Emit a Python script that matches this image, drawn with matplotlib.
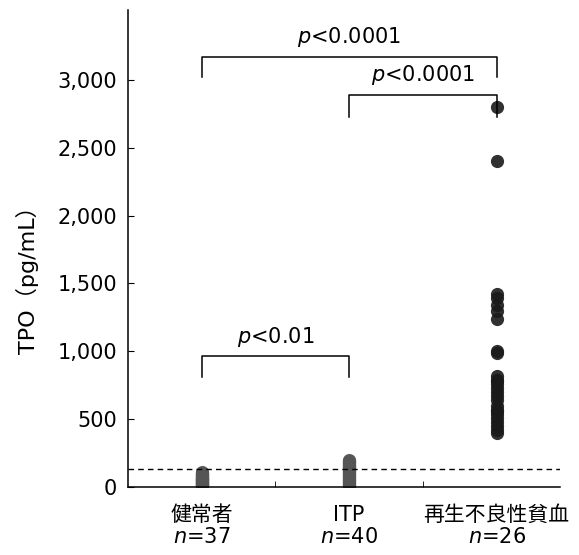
import numpy as np
from matplotlib import pyplot as plt

plt.rcParams['font.family'] = ['DejaVu Sans', 'Noto Sans CJK JP']
plt.rcParams['mathtext.fontset'] = 'dejavusans'

# groups
categories = ['健常者', 'ITP', '再生不良性貧血']
n_labels = ['37', '40', '26']

# TPO (pg/mL)
healthy = [5, 10, 12, 15, 18, 20, 22, 25, 28, 30, 32, 35, 38, 40, 42, 45, 48, 50, 52,
           55, 58, 60, 62, 65, 68, 70, 72, 75, 78, 80, 85, 88, 90, 95, 100, 105, 110]
itp = [5, 10, 15, 20, 25, 30, 35, 40, 45, 50, 55, 60, 65, 70, 75, 80, 85, 90, 95, 100,
       105, 110, 115, 120, 125, 130, 135, 140, 145, 150, 155, 160, 165, 170, 175, 180,
       185, 190, 195, 200]
aplastic = [2800, 2400, 1420, 1390, 1340, 1300, 1240, 1000, 990, 820, 790, 780, 760,
            730, 700, 670, 640, 600, 570, 560, 540, 510, 480, 450, 420, 400]

cutoff = 130

# significance brackets: (left group, right group, bar height, leg bottom, label)
brackets = [(0, 2, 3170, 3020, '0.0001'),
            (1, 2, 2890, 2725, '0.0001'),
            (0, 1, 965, 810, '0.01')]

fig = plt.figure(figsize=(5.79, 5.55), dpi=100)
ax = fig.add_axes([0.221, 0.1225, 0.746, 0.8595])

groups = [healthy, itp, aplastic]
colors = ['#555555', '#555555', '#1a1a1a']
for i, vals in enumerate(groups):
    ax.plot(np.full(len(vals), i), vals, 'o', color=colors[i], ms=9.5,
            markeredgewidth=0, alpha=0.9)

ax.axhline(cutoff, color='black', linestyle=(0, (4, 3)), linewidth=1.0)

for a, b, top, leg, p in brackets:
    ax.plot([a, a, b, b], [leg, top, top, leg], color='black', linewidth=1.1)
    ax.text((a + b) / 2, top + 55, r'$\it{p}$<' + p, ha='center', va='bottom',
            fontsize=15)

ax.set_xlim(-0.5, 2.43)
ax.set_ylim(0, 3515)
ax.set_yticks(np.arange(0, 3001, 500))
ax.set_yticklabels([f'{v:,}' for v in range(0, 3001, 500)], fontsize=15)
ax.set_xticks([0, 1, 2])
ax.set_xticklabels([f'{c}\n$\\it{{n}}$={n}' for c, n in zip(categories, n_labels)],
                   fontsize=15, linespacing=1.15)
ax.tick_params(axis='x', which='major', length=0, pad=13)
ax.set_xticks([0.5, 1.5], minor=True)
ax.tick_params(axis='x', which='minor', direction='in', length=4)
ax.tick_params(axis='y', direction='in', length=4, pad=8)

for side in ['left', 'bottom']:
    ax.spines[side].set_linewidth(1.1)
ax.spines['top'].set_visible(False)
ax.spines['right'].set_visible(False)
ax.set_ylabel('TPO（pg/mL）', fontsize=16)
ax.yaxis.set_label_coords(-0.205, 0.445)

plt.savefig('out.png', dpi=100)
